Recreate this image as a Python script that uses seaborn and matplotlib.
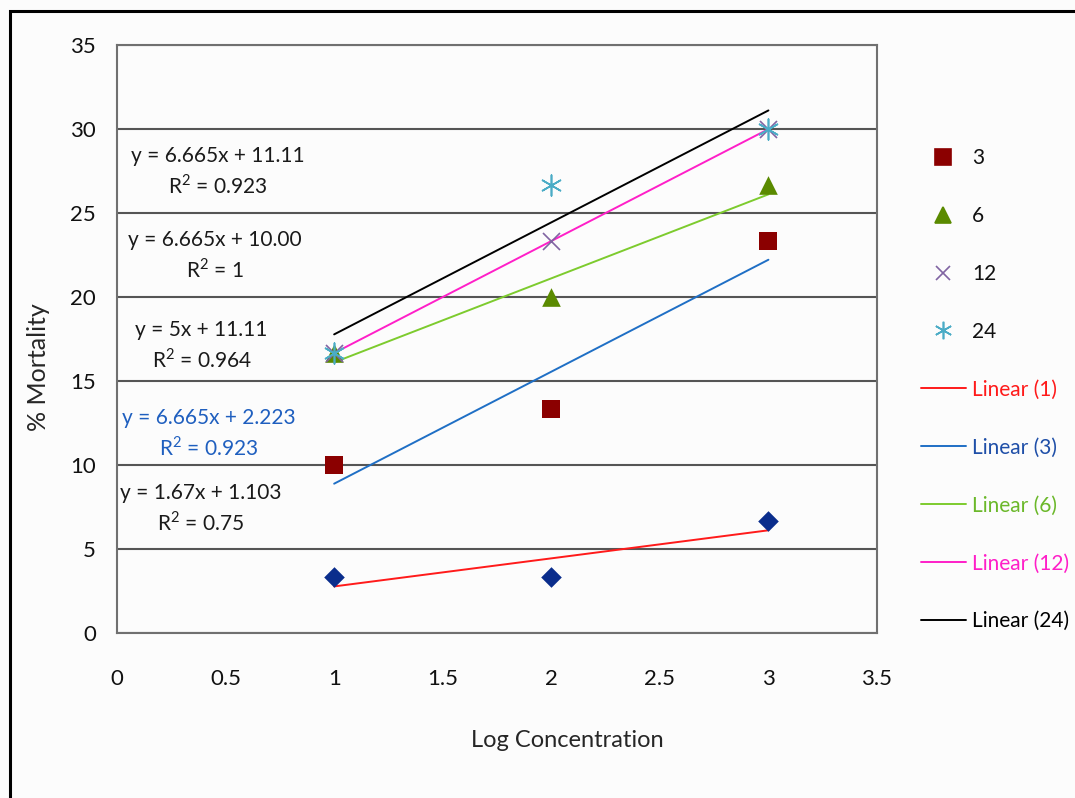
import numpy as np
import pandas as pd
import seaborn as sns
import matplotlib.pyplot as plt
from matplotlib.lines import Line2D
from matplotlib.patches import Rectangle

sns.set_style("white")
plt.rcParams['font.family'] = ['Lato', 'DejaVu Sans']
plt.rcParams['font.size'] = 15
plt.rcParams['mathtext.fontset'] = 'custom'
plt.rcParams['mathtext.rm'] = 'Lato'

# data
log_conc = [1, 2, 3]
hours = ['1', '3', '6', '12', '24']
mortality = {
    '1': [3.33, 3.33, 6.67],
    '3': [10.0, 13.33, 23.33],
    '6': [16.67, 20.0, 26.67],
    '12': [16.67, 23.33, 30.0],
    '24': [16.67, 26.67, 30.0],
}
# trendline equations as printed on the chart
slopes = [1.67, 6.665, 5.0, 6.665, 6.665]
intercepts = [1.103, 2.223, 11.11, 10.00, 11.11]
eq_labels = [
    "y = 1.67x + 1.103\nR$^\\mathregular{2}$ = 0.75",
    "y = 6.665x + 2.223\nR$^\\mathregular{2}$ = 0.923",
    "y = 5x + 11.11\nR$^\\mathregular{2}$ = 0.964",
    "y = 6.665x + 10.00\nR$^\\mathregular{2}$ = 1",
    "y = 6.665x + 11.11\nR$^\\mathregular{2}$ = 0.923",
]
eq_pos = [(0.387, 7.41), (0.424, 11.85), (0.39, 17.11), (0.451, 22.44), (0.465, 27.44)]
eq_colors = ['#1a1a1a', '#1F5FBF', '#1a1a1a', '#1a1a1a', '#1a1a1a']

marker_colors = ['#0A2D8C', '#8B0000', '#5A8A00', '#8064A2', '#4BACC6']
markers = ['D', 's', '^', 'x', (6, 2, 0)]
marker_sizes = [110, 170, 180, 150, 220]
line_colors = ['#FF1A1A', '#1F6FC5', '#7DCB2E', '#FF1FC8', '#000000']
legend_text_colors = ['#FF1A1A', '#1F4FA8', '#6BB82A', '#FF1FC8', '#000000']

df = pd.DataFrame([(h, x, y) for h in hours for x, y in zip(log_conc, mortality[h])],
                  columns=['hours', 'log_conc', 'mortality'])
trend = pd.DataFrame([(h, x, m * x + b) for h, m, b in zip(hours, slopes, intercepts)
                      for x in (log_conc[0], log_conc[-1])],
                     columns=['hours', 'log_conc', 'fit'])

fig = plt.figure(figsize=(10.75, 7.98), dpi=100, facecolor='#fcfcfc')
ax = fig.add_axes([117 / 1075, 1 - 633 / 798, 760 / 1075, 588 / 798])
ax.set_facecolor('#fcfcfc')

for i, h in enumerate(hours):
    sub = trend[trend['hours'] == h]
    sns.lineplot(data=sub, x='log_conc', y='fit', color=line_colors[i], lw=1.4,
                 ax=ax, zorder=3, legend=False)
for i, h in enumerate(hours):
    sub = df[df['hours'] == h]
    lw = 1.2 if markers[i] in ('x',) or isinstance(markers[i], tuple) else 0
    sns.scatterplot(data=sub, x='log_conc', y='mortality', marker=markers[i],
                    s=marker_sizes[i], color=marker_colors[i], linewidth=lw,
                    edgecolor=marker_colors[i], ax=ax, zorder=4, legend=False)

for (x, y), txt, c in zip(eq_pos, eq_labels, eq_colors):
    ax.text(x, y, txt, ha='center', va='center', multialignment='center',
            color=c, fontsize=15, linespacing=1.4, zorder=5)

ax.set_xlim(0, 3.5)
ax.set_ylim(0, 35)
ax.set_xticks(np.arange(0, 3.51, 0.5))
ax.set_xticklabels(['0', '0.5', '1', '1.5', '2', '2.5', '3', '3.5'])
ax.set_yticks(np.arange(0, 36, 5))
ax.yaxis.grid(True, color='#555555', lw=1.5)
ax.set_axisbelow(True)
for s in ax.spines.values():
    s.set_color('#707070')
    s.set_linewidth(1.5)
ax.tick_params(axis='both', direction='out', length=6, width=1.2, color='#707070',
               labelsize=16, labelcolor='#111111')
ax.tick_params(axis='x', pad=20)
ax.tick_params(axis='y', pad=9)
ax.set_xlabel('Log Concentration', fontsize=17)
ax.set_ylabel('% Mortality', fontsize=18)
ax.xaxis.set_label_coords((567 - 117) / 760, -(730 - 633) / 588)
ax.yaxis.set_label_coords(-(117 - 50) / 760, (633 - 367) / 588)

handles = []
for i in range(1, 5):
    handles.append(Line2D([], [], ls='none', marker=markers[i], color=marker_colors[i],
                          markersize=np.sqrt(marker_sizes[i]) * 0.85, mew=1.2))
for i in range(5):
    handles.append(Line2D([], [], color=line_colors[i], lw=1.4))
labels = hours[1:] + [f'Linear ({h})' for h in hours]
leg = fig.legend(handles, labels, loc='upper left', bbox_to_anchor=(921 / 1075, 1 - 148 / 798),
                 frameon=False, borderpad=0, borderaxespad=0, handlelength=2.15,
                 handletextpad=0.3, labelspacing=1.82, fontsize=15)
for t, c in zip(leg.get_texts(), ['#111111'] * 4 + legend_text_colors):
    t.set_color(c)

# outer chart frame
fig.add_artist(Rectangle((9.5 / 1075, -0.1), 1.2, 1.1 - 11 / 798, transform=fig.transFigure,
                         fill=False, ec='black', lw=2.2, clip_on=False))

fig.savefig('out.png', dpi=100, facecolor=fig.get_facecolor())
